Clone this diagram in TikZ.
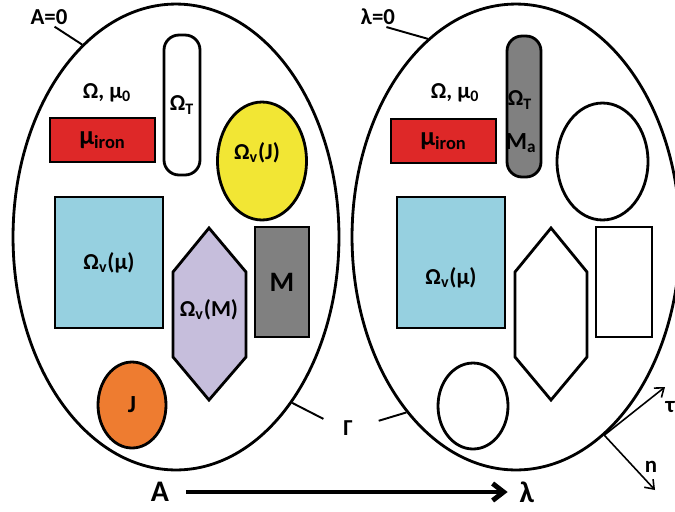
\documentclass[tikz,border=0pt]{standalone}
\usepackage{fontspec}
\setmainfont{Carlito}
\usepackage{tikz}
\usetikzlibrary{positioning,calc,arrows.meta,shapes}

\definecolor{ironred}{RGB}{222,40,40}
\definecolor{curyellow}{RGB}{242,230,52}
\definecolor{permblue}{RGB}{150,208,224}
\definecolor{magpurple}{RGB}{198,190,220}
\definecolor{srcorange}{RGB}{238,124,48}
\definecolor{magray}{RGB}{128,128,128}

\tikzset{
	region/.style={draw, line width=1.6pt, inner sep=0pt},
	lbl/.style={font=\bfseries\fontsize{13}{15}\selectfont, inner sep=1pt},
	leader/.style={line width=1.1pt},
}

\begin{document}
\begin{tikzpicture}[x=0.02cm, y=-0.02cm]
		\useasboundingbox (0,0) rectangle (675,511);
		\clip (0,0) rectangle (675,511);
		% left domain
		\node[ellipse, region, minimum width=6.52cm, minimum height=9.32cm] (Lbig) at (176,237) {};
		\node[lbl] (Lzero) at (49,17) {A=0};
		\node[lbl] at (107,93) {Ω, μ\textsubscript{0}};
		\node[rectangle, region, fill=ironred, minimum width=2.1cm, minimum height=0.88cm] (Liron) at (102.5,140) {\bfseries\fontsize{15}{15}\selectfont μ\textsubscript{iron}};
		\node[rectangle, region, rounded corners=0.3cm, minimum width=0.72cm, minimum height=2.8cm] (Lcut) at (182,105) {};
		\node[lbl] at (Lcut) {Ω\textsubscript{T}};
		\node[ellipse, region, fill=curyellow, minimum width=1.78cm, minimum height=2.36cm] (Lcur) at (262,161) {};
		\node[lbl] at ([xshift=-0.1cm, yshift=0.16cm]Lcur) {Ω\textsubscript{v}(J)};
		\node[rectangle, region, fill=permblue, minimum width=2.16cm, minimum height=2.62cm] (Lperm) at (109,262.5) {};
		\node[lbl] at (Lperm) {Ω\textsubscript{v}(μ)};
		\draw[line width=1.6pt, fill=magpurple] (209,228) -- (246,272) -- (246,357) -- (209,400) -- (173,357) -- (173,272) -- cycle;
		\node[lbl] (Lmag) at (209,310) {Ω\textsubscript{v}(M)};
		\node[rectangle, region, fill=magray, minimum width=1.08cm, minimum height=2.2cm] (Lperm2) at (282,282) {};
		\node[lbl, font=\bfseries\fontsize{16}{18}\selectfont] at (Lperm2) {M};
		\node[ellipse, region, fill=srcorange, minimum width=1.36cm, minimum height=1.72cm] (Lsrc) at (132,405) {};
		\node[lbl, font=\bfseries\fontsize{14}{16}\selectfont] at (Lsrc) {J};
		% right domain
		\node[ellipse, region, minimum width=6.56cm, minimum height=9.32cm] (Rbig) at (516,237) {};
		\node[lbl] (Rzero) at (378,17) {λ=0};
		\node[lbl] at (455,93) {Ω, μ\textsubscript{0}};
		\node[rectangle, region, fill=ironred, minimum width=2.1cm, minimum height=0.88cm] (Riron) at (443.5,141) {\bfseries\fontsize{15}{15}\selectfont μ\textsubscript{iron}};
		\node[rectangle, region, fill=magray, rounded corners=0.3cm, minimum width=0.68cm, minimum height=2.82cm] (Rcut) at (524,106.5) {};
		\node[lbl] at (520,100) {Ω\textsubscript{T}};
		\node[lbl, font=\bfseries\fontsize{14}{16}\selectfont] at (521,143) {M\textsubscript{a}};
		\node[ellipse, region, minimum width=1.82cm, minimum height=2.34cm] (Rcur) at (602.5,161.5) {};
		\node[rectangle, region, fill=permblue, minimum width=2.16cm, minimum height=2.62cm] (Rperm) at (451,262.5) {};
		\node[lbl] at ([yshift=-0.3cm]Rperm) {Ω\textsubscript{v}(μ)};
		\draw[line width=1.6pt] (551,228) -- (587,272) -- (587,357) -- (551,400) -- (515,357) -- (515,272) -- cycle;
		\node[rectangle, region, minimum width=1.12cm, minimum height=2.2cm] (Rperm2) at (624,282) {};
		\node[ellipse, region, minimum width=1.4cm, minimum height=1.72cm] (Rsrc) at (473,406) {};
		% boundary labels
		\draw[leader] (Lzero.-60) -- (Lbig.116.8);
		\draw[leader] (Rzero.-50) -- (Rbig.114.7);
		\node[lbl] (gam) at (348,428) {Γ};
		\draw[leader, shorten <=0.4cm] (gam.west) -- (Lbig.-55.8);
		\draw[leader, shorten <=0.5cm] (gam.east) -- (Rbig.-122);
		% tangent and normal
		\coordinate (tip) at (665,387);
		\coordinate (nip) at (655,490);
		\draw[line width=0.9pt, -{Straight Barb[length=1.6mm, width=2.4mm]}] (Rbig.-66.6) -- (tip);
		\draw[line width=0.9pt, -{Straight Barb[length=1.6mm, width=2.4mm]}] (Rbig.-66.6) -- (nip);
		\node[lbl] at (670,407) {τ};
		\node[lbl] at (651,467) {n};
		% mapping
		\node[lbl, font=\bfseries\fontsize{17}{19}\selectfont] (A) at (160,492) {A};
		\node[lbl, font=\bfseries\fontsize{17}{19}\selectfont] (lam) at (527,492) {λ};
		\draw[line width=2.8pt, -{Straight Barb[length=2.2mm, width=3.4mm]}, shorten <=0.3cm, shorten >=0.2cm] (A.east) -- (lam.west);
	\end{tikzpicture}
\end{document}
